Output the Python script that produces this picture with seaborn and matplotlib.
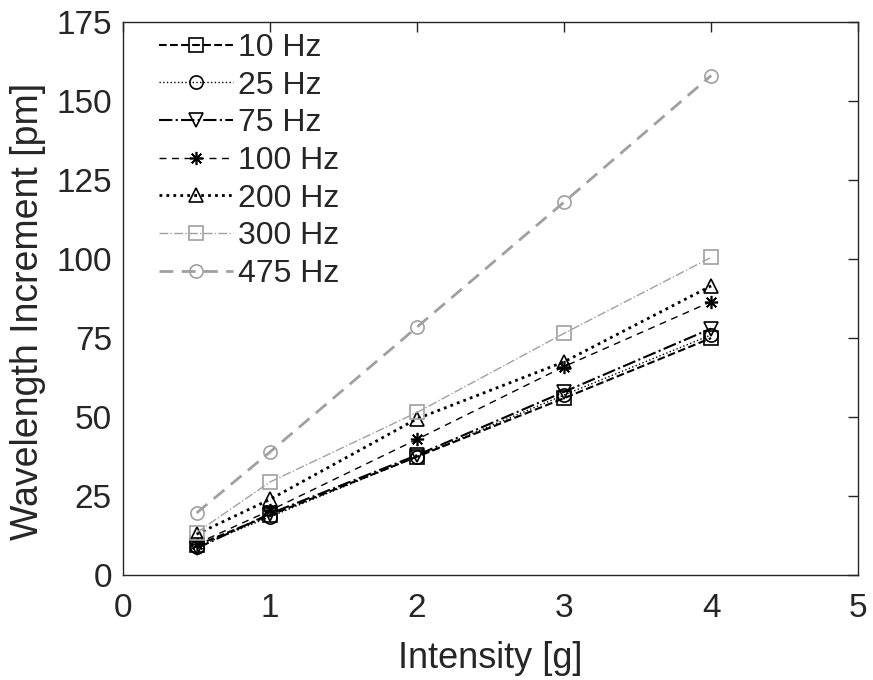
import numpy as np
import pandas as pd
import matplotlib
matplotlib.use('Agg')
import matplotlib.pyplot as plt
import seaborn as sns

# values
intensity = [0.5, 1, 2, 3, 4]
labels = ['10 Hz', '25 Hz', '75 Hz', '100 Hz', '200 Hz', '300 Hz', '475 Hz']
hz_10 = [9.5, 19.0, 37.5, 56.0, 75.0]
hz_25 = [9.0, 18.5, 37.5, 57.0, 76.0]
hz_75 = [8.5, 19.5, 38.0, 58.0, 78.0]
hz_100 = [10.0, 20.5, 43.0, 66.0, 86.5]
hz_200 = [13.0, 24.0, 49.5, 67.5, 91.5]
hz_300 = [13.5, 29.5, 51.5, 76.5, 100.5]
hz_475 = [19.7, 39.0, 78.5, 118.0, 158.0]
series = [hz_10, hz_25, hz_75, hz_100, hz_200, hz_300, hz_475]

grey = '#a0a0a0'
asterisk = (8, 2, 0)
styles = [
    dict(color='black', ls='--', lw=1.5, marker='s'),
    dict(color='black', ls=':', lw=1.0, marker='o'),
    dict(color='black', ls='-.', lw=1.5, marker='v'),
    dict(color='black', ls=(0, (5, 4)), lw=1.0, marker=asterisk),
    dict(color='black', ls=(0, (1, 1.5)), lw=2.0, marker='^'),
    dict(color=grey, ls='-.', lw=1.0, marker='s'),
    dict(color=grey, ls=(0, (5, 3)), lw=2.0, marker='o'),
]

sns.set_style('white')
plt.rcParams['font.family'] = ['Liberation Sans', 'DejaVu Sans']

fig = plt.figure(figsize=(8.73, 6.8), dpi=100)
ax = fig.add_axes([0.141, 0.154, 0.842, 0.814])

for lab, vals, st in zip(labels, series, styles):
    df = pd.DataFrame({'x': intensity, 'y': vals})
    sns.lineplot(data=df, x='x', y='y', ax=ax, label=lab,
                 color=st['color'], linestyle=st['ls'], linewidth=st['lw'],
                 marker=st['marker'], markersize=9.5,
                 markerfacecolor='none', markeredgecolor=st['color'],
                 markeredgewidth=1.2)

ax.set_xlim(0, 5)
ax.set_ylim(0, 175)
ax.set_xticks([0, 1, 2, 3, 4, 5])
ax.set_yticks(np.arange(0, 176, 25))
ax.set_xlabel('Intensity [g]', fontsize=26, color='#262626', labelpad=12)
ax.set_ylabel('Wavelength Increment [pm]', fontsize=27, color='#262626')
ax.yaxis.set_label_coords(-0.105, 0.477)
ax.tick_params(direction='in', length=7, width=1, labelsize=24,
               colors='#262626', top=True, right=True, pad=8)
ax.tick_params(axis='x', pad=13)
for sp in ax.spines.values():
    sp.set_color('#262626')
    sp.set_linewidth(1.0)

leg = ax.legend(loc='upper left', frameon=False, fontsize=23,
                handlelength=2.3, handletextpad=0.15, labelspacing=0.24,
                borderaxespad=0.0, bbox_to_anchor=(0.032, 1.003))

fig.savefig('out.png', dpi=100)
